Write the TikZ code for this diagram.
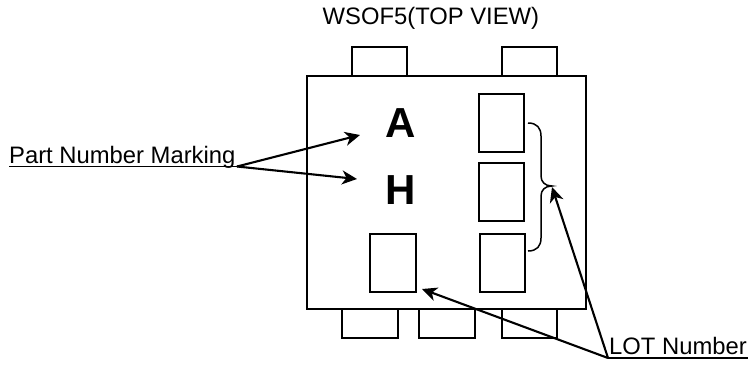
\documentclass[tikz,border=0pt]{standalone}
\usepackage{fontspec}
\setmainfont{Liberation Sans}
\usetikzlibrary{arrows.meta}
\tikzset{
  x=1pt,y=-1pt,
  outline/.style={draw=black,line width=1.6pt,fill=none,line join=miter},
  cell/.style={draw=black,line width=1.6pt},
  pointer/.style={draw=black,line width=2.1pt,-{Stealth[length=15pt,width=14pt,inset=4.5pt]}},
  rule/.style={draw=black,line width=1.8pt},
  lbl/.style={inner sep=0pt,anchor=base west,font=\fontsize{23.8}{26}\selectfont},
  big/.style={inner sep=0pt,anchor=base,font=\fontsize{42}{44}\selectfont\bfseries},
}
\begin{document}
\begin{tikzpicture}
\useasboundingbox (0,0) rectangle (749,365);
% package body and pins
\draw[outline] (352,76) -- (352,47) -- (407,47) -- (407,76);
\draw[outline] (502,76) -- (502,47) -- (557,47) -- (557,76);
\draw[outline] (342,309) -- (342,338) -- (398,338) -- (398,309);
\draw[outline] (419,309) -- (419,338) -- (475,338) -- (475,309);
\draw[outline] (502,309) -- (502,338) -- (557,338) -- (557,309);
\draw[outline] (307,76) rectangle (586,309);
% marking cells
\draw[cell] (479,94) rectangle (524,152);
\draw[cell] (479,163) rectangle (524,221);
\draw[cell] (480,234) rectangle (525,292);
\draw[cell] (370,234) rectangle (416,292);
% brace
\draw[rule,line width=1.5pt] (528,123) .. controls (537,123) and (541,128) .. (541,136)
  -- (541,176) .. controls (541,182) and (545,186) .. (552,186)
  .. controls (545,186) and (541,190) .. (541,196)
  -- (541,238) .. controls (541,246) and (537,251) .. (528,251);
% labels
\node[lbl] (title) at (322.5,24) {WSOF5(TOP VIEW)};
\node[big] (A) at (400.5,137) {A};
\node[big] (H) at (400.5,204) {H};
\node[lbl] (part) at (9,163) {Part Number Marking};
\node[lbl] (lot) at (609,354) {LOT Number};
% underlines
\coordinate (pj) at (237,166.5);
\coordinate (lj) at (608,358);
\coordinate (ps) at (9,166.5);
\coordinate (le) at (748,358);
\coordinate (pA) at (360,135);
\coordinate (pH) at (357,179);
\coordinate (lc) at (422,289);
\coordinate (lb) at (552,187);
\draw[rule] (ps) -- (pj);
\draw[rule] (lj) -- (le);
% pointers
\draw[pointer] (pj) -- (pA);
\draw[pointer] (pj) -- (pH);
\draw[pointer] (lj) -- (lc);
\draw[pointer] (lj) -- (lb);
\end{tikzpicture}
\end{document}
